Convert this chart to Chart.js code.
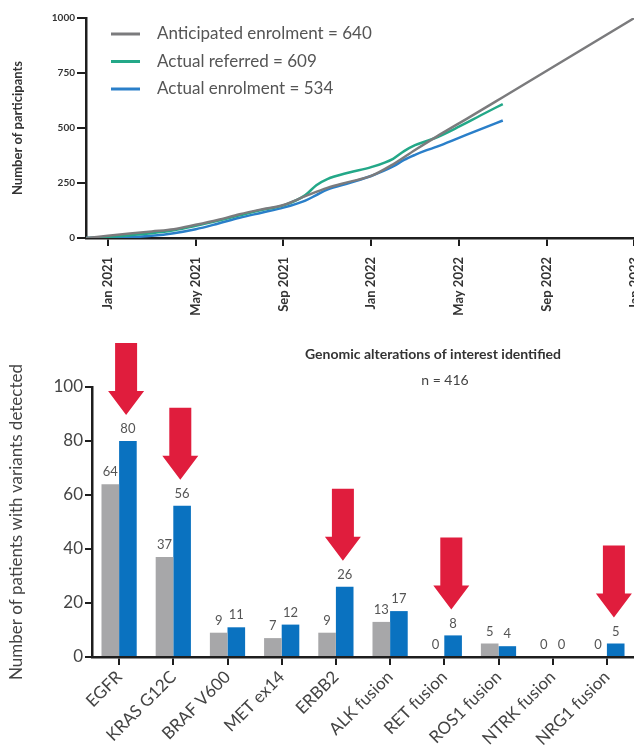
<!DOCTYPE html>
<html>
<head>
<meta charset="utf-8">
<script src="https://cdn.jsdelivr.net/npm/chart.js@4.4.1/dist/chart.umd.min.js"></script>
<style>
  html, body { margin: 0; padding: 0; background: #fff; overflow: hidden; }
  #wrap { position: relative; width: 634px; height: 751px; overflow: hidden; }
  #enrolCanvas { position: absolute; left: 0; top: 0; }
  #variantCanvas { position: absolute; left: 0; top: 318px; }
</style>
</head>
<body>
<div id="wrap">
  <canvas id="enrolCanvas" width="661" height="322"></canvas>
  <canvas id="variantCanvas" width="640" height="433"></canvas>
</div>
<script>
// ---- top chart: enrolment over time (x = months since Jan 2021) ----
const tickMonths = [0, 4, 8, 12, 16, 20, 24];
const tickLabels = ['Jan 2021', 'May 2021', 'Sep 2021', 'Jan 2022', 'May 2022', 'Sep 2022', 'Jan 2023'];
const yTicks = [0, 250, 500, 750, 1000];

const anticipatedMonths = [-1, 0, 1, 2, 3, 4, 5, 6, 7, 8, 9, 10, 11, 12, 13, 14, 15, 16, 17, 18, 24];
const anticipated = [0, 10, 20, 30, 40, 60, 82, 108, 130, 150, 190, 228, 255, 282, 335, 400, 462, 521, 580, 640, 1000];

const actualMonths = [-1, 0, 1, 2, 3, 4, 5, 6, 7, 8, 9, 9.5, 10, 11, 12, 13, 13.5, 14, 14.5, 15, 16, 17, 18];
const referred = [0, 5, 13, 22, 35, 55, 78, 103, 127, 148, 195, 240, 268, 298, 322, 360, 395, 422, 440, 458, 506, 558, 609];
const enrolled = [0, 0, 3, 10, 22, 40, 65, 92, 115, 138, 170, 195, 220, 250, 282, 325, 355, 378, 398, 415, 455, 495, 534];

// ---- bottom chart: variants detected ----
const genes = ['EGFR', 'KRAS G12C', 'BRAF V600', 'MET ex14', 'ERBB2', 'ALK fusion', 'RET fusion', 'ROS1 fusion', 'NTRK fusion', 'NRG1 fusion'];
const greyCounts = [64, 37, 9, 7, 9, 13, 0, 5, 0, 0];
const blueCounts = [80, 56, 11, 12, 26, 17, 8, 4, 0, 5];
const highlighted = ['EGFR', 'KRAS G12C', 'ERBB2', 'RET fusion', 'NRG1 fusion'];

const FONT = 'Lato, "Open Sans", sans-serif';
const AXIS = '#1e1e1e';

function toPoints(xs, ys) {
  return ys.map((y, i) => ({ x: xs[i], y: y }));
}

const enrolLegend = {
  id: 'enrolLegend',
  afterDraw(chart) {
    const { ctx, chartArea } = chart;
    ctx.save();
    ctx.font = '17px ' + FONT;
    ctx.textBaseline = 'middle';
    chart.data.datasets.forEach((ds, i) => {
      const y = chartArea.top + 16 + i * 27.5;
      ctx.strokeStyle = ds.borderColor;
      ctx.lineWidth = 3;
      ctx.beginPath();
      ctx.moveTo(chartArea.left + 25, y);
      ctx.lineTo(chartArea.left + 54, y);
      ctx.stroke();
      ctx.fillStyle = '#555';
      ctx.fillText(ds.label, chartArea.left + 71, y);
    });
    ctx.restore();
  }
};

new Chart(document.getElementById('enrolCanvas'), {
  type: 'line',
  data: {
    datasets: [
      { label: 'Anticipated enrolment = 640', data: toPoints(anticipatedMonths, anticipated), borderColor: '#7b7b7d', borderWidth: 2.5, pointRadius: 0, cubicInterpolationMode: 'monotone' },
      { label: 'Actual referred = 609', data: toPoints(actualMonths, referred), borderColor: '#23a888', borderWidth: 2.5, pointRadius: 0, cubicInterpolationMode: 'monotone' },
      { label: 'Actual enrolment = 534', data: toPoints(actualMonths, enrolled), borderColor: '#2a7fc9', borderWidth: 2.5, pointRadius: 0, cubicInterpolationMode: 'monotone' }
    ]
  },
  options: {
    responsive: false,
    animation: false,
    layout: { padding: { top: 18, right: 6, left: 0, bottom: 0 } },
    plugins: { legend: { display: false }, tooltip: { enabled: false } },
    scales: {
      x: {
        type: 'linear', min: -1, max: 24,
        afterBuildTicks: s => { s.ticks = tickMonths.map(v => ({ value: v })); },
        afterFit: s => { s.height = 84; },
        ticks: {
          autoSkip: false, minRotation: 90, maxRotation: 90, padding: 11,
          color: '#333', font: { family: FONT, size: 13, weight: 'bold' },
          callback: (v, i) => tickLabels[i]
        },
        grid: { drawOnChartArea: false, tickLength: 8, color: AXIS, lineWidth: 2 },
        border: { color: AXIS, width: 2.5 }
      },
      y: {
        min: 0, max: 1000,
        afterBuildTicks: s => { s.ticks = yTicks.map(v => ({ value: v })); },
        afterFit: s => { s.width = 86; },
        ticks: { color: '#333', padding: 2, font: { family: FONT, size: 10, weight: 'bold' }, callback: v => String(v) },
        grid: { drawOnChartArea: false, tickLength: 9, color: AXIS, lineWidth: 2 },
        border: { color: AXIS, width: 2.5 },
        title: { display: true, text: 'Number of participants', color: '#333', padding: { top: 10, bottom: 0 }, font: { family: FONT, size: 13, weight: 'bold' } }
      }
    }
  },
  plugins: [enrolLegend]
});

const valueLabels = {
  id: 'valueLabels',
  afterDatasetsDraw(chart) {
    const { ctx } = chart;
    ctx.save();
    ctx.font = '13px ' + FONT;
    ctx.fillStyle = '#555';
    ctx.textAlign = 'center';
    ctx.textBaseline = 'middle';
    chart.data.datasets.forEach((ds, d) => {
      chart.getDatasetMeta(d).data.forEach((bar, i) => {
        ctx.fillText(String(ds.data[i]), bar.x, bar.y - 12);
      });
    });
    ctx.restore();
  }
};

const arrows = {
  id: 'arrows',
  afterDraw(chart) {
    const { ctx, scales: { x, y } } = chart;
    ctx.save();
    ctx.fillStyle = '#e01d3d';
    highlighted.forEach(name => {
      const i = genes.indexOf(name);
      const cx = x.getPixelForValue(i) + 7;
      const tip = y.getPixelForValue(blueCounts[i]) - 26;
      ctx.beginPath();
      ctx.moveTo(cx - 11, tip - 72);
      ctx.lineTo(cx + 11, tip - 72);
      ctx.lineTo(cx + 11, tip - 24);
      ctx.lineTo(cx + 18, tip - 24);
      ctx.lineTo(cx, tip);
      ctx.lineTo(cx - 18, tip - 24);
      ctx.lineTo(cx - 11, tip - 24);
      ctx.closePath();
      ctx.fill();
    });
    ctx.restore();
  }
};

const heading = {
  id: 'heading',
  afterDraw(chart) {
    const { ctx } = chart;
    ctx.save();
    ctx.textAlign = 'center';
    ctx.textBaseline = 'middle';
    ctx.fillStyle = '#333';
    ctx.font = 'bold 14px ' + FONT;
    ctx.fillText('Genomic alterations of interest identified', 433, 36);
    ctx.fillStyle = '#444';
    ctx.font = '14px ' + FONT;
    ctx.fillText('n = 416', 445, 62);
    ctx.restore();
  }
};

new Chart(document.getElementById('variantCanvas'), {
  type: 'bar',
  data: {
    labels: genes,
    datasets: [
      { label: 'Grey', data: greyCounts, backgroundColor: '#a7a7a9', categoryPercentage: 0.65, barPercentage: 1.0 },
      { label: 'Blue', data: blueCounts, backgroundColor: '#0a72c0', categoryPercentage: 0.65, barPercentage: 1.0 }
    ]
  },
  options: {
    responsive: false,
    animation: false,
    layout: { padding: { top: 69, right: 6, left: 0, bottom: 0 } },
    plugins: { legend: { display: false }, tooltip: { enabled: false } },
    scales: {
      x: {
        afterFit: s => { s.height = 94; },
        ticks: { autoSkip: false, minRotation: 45, maxRotation: 45, padding: 2, color: '#444', font: { family: FONT, size: 17 } },
        grid: { drawOnChartArea: false, tickLength: 8, color: AXIS, lineWidth: 2, offset: false },
        border: { color: AXIS, width: 2.5 }
      },
      y: {
        min: 0, max: 100,
        afterFit: s => { s.width = 92; },
        ticks: { stepSize: 20, color: '#444', padding: 2, font: { family: FONT, size: 17 } },
        grid: { drawOnChartArea: false, tickLength: 7, color: AXIS, lineWidth: 2 },
        border: { color: AXIS, width: 2.5 },
        title: { display: true, text: 'Number of patients with variants detected', color: '#444', padding: { top: 6, bottom: 0 }, font: { family: FONT, size: 17 } }
      }
    }
  },
  plugins: [valueLabels, arrows, heading]
});
</script>
</body>
</html>
